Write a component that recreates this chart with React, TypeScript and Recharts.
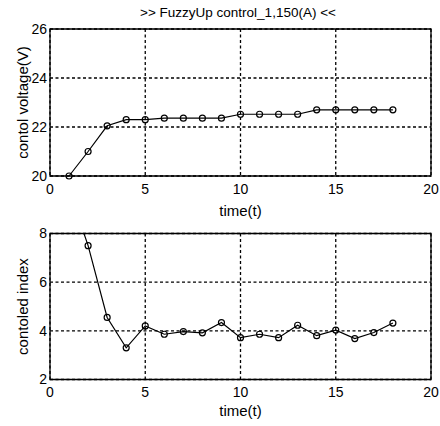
import React from 'react';
import { LineChart, Line, XAxis, YAxis, CartesianGrid, ReferenceArea } from 'recharts';

const timeSteps = [1, 2, 3, 4, 5, 6, 7, 8, 9, 10, 11, 12, 13, 14, 15, 16, 17, 18];
const voltageValues = [20, 21, 22.05, 22.3, 22.3, 22.36, 22.36, 22.36, 22.36, 22.52, 22.52, 22.52, 22.52, 22.7, 22.7, 22.7, 22.7, 22.7];
const indexValues = [9.8, 7.5, 4.55, 3.3, 4.2, 3.86, 3.97, 3.92, 4.34, 3.72, 3.86, 3.72, 4.23, 3.8, 4.03, 3.68, 3.93, 4.32];
const xTicks = [0, 5, 10, 15, 20];
const voltageTicks = [20, 22, 24, 26];
const indexTicks = [2, 4, 6, 8];

const voltageData = timeSteps.map((t, i) => ({ t, v: voltageValues[i] }));
const indexData = timeSteps.map((t, i) => ({ t, v: indexValues[i] }));

const FONT = '"Liberation Sans", Arial, sans-serif';
const tickStyle = { fontSize: 14, fill: '#000', fontFamily: FONT };
const labelStyle = { fontSize: 15, fill: '#000', fontFamily: FONT };

export default function App() {
  return (
    <div style={{ position: 'absolute', left: 0, top: 0, width: 440, height: 426, background: '#fff' }}>
      <div
        style={{
          position: 'absolute',
          left: 0,
          top: 4,
          width: 476,
          textAlign: 'center',
          fontFamily: FONT,
          fontSize: 13.5,
          lineHeight: '17px',
          color: '#000',
        }}
      >
        {'>> FuzzyUp control_1,150(A) <<'}
      </div>
      <div style={{ position: 'absolute', left: 0, top: 0 }}>
        <LineChart width={440} height={222} data={voltageData} margin={{ top: 29, right: 9, bottom: 0, left: 0 }}>
          <CartesianGrid stroke="#000" strokeWidth={1.3} strokeDasharray="3 2.5" />
          <XAxis
            dataKey="t"
            type="number"
            domain={[0, 20]}
            ticks={xTicks}
            axisLine={false}
            tickLine={false}
            tickSize={0}
            tickMargin={8}
            height={46}
            tick={tickStyle}
            label={{ value: 'time(t)', position: 'insideBottom', offset: 6.5, style: labelStyle }}
          />
          <YAxis
            type="number"
            domain={[20, 26]}
            ticks={voltageTicks}
            axisLine={false}
            tickLine={false}
            tickSize={0}
            tickMargin={3}
            width={50}
            tick={tickStyle}
            label={{ value: 'contol voltage(V)', angle: -90, position: 'insideLeft', offset: 23, style: { ...labelStyle, textAnchor: 'middle' } }}
          />
          <ReferenceArea x1={0} x2={20} y1={20} y2={26} fill="none" stroke="#000" strokeWidth={1.3} />
          <Line
            dataKey="v"
            stroke="#000"
            strokeWidth={1.2}
            dot={{ r: 3, stroke: '#000', fill: 'none', strokeWidth: 1.2 }}
            isAnimationActive={false}
          />
        </LineChart>
      </div>
      <div style={{ position: 'absolute', left: 0, top: 222 }}>
        <LineChart width={440} height={204} data={indexData} margin={{ top: 11.5, right: 9, bottom: 0, left: 0 }}>
          <CartesianGrid stroke="#000" strokeWidth={1.3} strokeDasharray="3 2.5" />
          <XAxis
            dataKey="t"
            type="number"
            domain={[0, 20]}
            ticks={xTicks}
            axisLine={false}
            tickLine={false}
            tickSize={0}
            tickMargin={8}
            height={46.5}
            tick={tickStyle}
            label={{ value: 'time(t)', position: 'insideBottom', offset: 10.5, style: labelStyle }}
          />
          <YAxis
            type="number"
            domain={[2, 8]}
            allowDataOverflow
            ticks={indexTicks}
            axisLine={false}
            tickLine={false}
            tickSize={0}
            tickMargin={3}
            width={50}
            tick={tickStyle}
            label={{ value: 'contoled index', angle: -90, position: 'insideLeft', offset: 23, style: { ...labelStyle, textAnchor: 'middle' } }}
          />
          <ReferenceArea x1={0} x2={20} y1={2} y2={8} fill="none" stroke="#000" strokeWidth={1.3} />
          <Line
            dataKey="v"
            stroke="#000"
            strokeWidth={1.2}
            dot={{ r: 3, stroke: '#000', fill: 'none', strokeWidth: 1.2 }}
            isAnimationActive={false}
          />
        </LineChart>
      </div>
    </div>
  );
}
